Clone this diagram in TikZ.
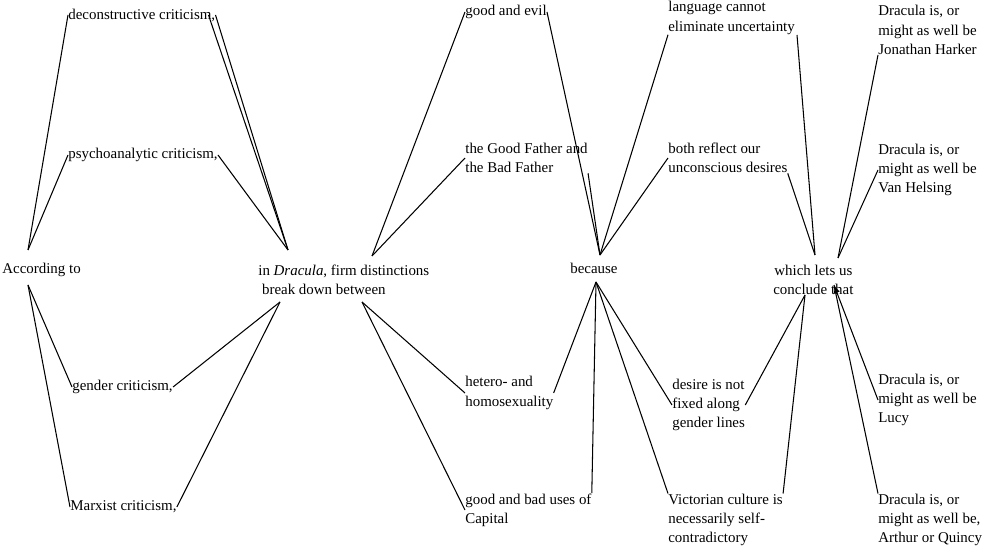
\documentclass[tikz,border=0pt]{standalone}
\usepackage{fontspec}
\setmainfont{Liberation Serif}
\begin{document}
\begin{tikzpicture}[x=0.02cm,y=-0.02cm]
% Styles
\tikzset{
    txt/.style={anchor=west, inner sep=0pt, align=left, font=\fontsize{8.5}{11}\selectfont},
    wire/.style={line width=0.6pt}
}
\useasboundingbox (0,0) rectangle (997,550);

% Nodes
\node[txt] (ACC) at (2,270) {According to};
\node[txt] (DEC) at (68,15) {deconstructive criticism,};
\node[txt] (PSY) at (68,155) {psychoanalytic criticism,};
\node[txt] (GEN) at (72,387) {gender criticism,};
\node[txt] (MAR) at (70,507) {Marxist criticism,};
\node[txt] (DRA) at (258,280) {in \textit{Dracula}, firm distinctions\\\ break down between};
\node[txt] (GE) at (465,12) {good and evil};
\node[txt] (GF) at (465,158) {the Good Father and\\the Bad Father};
\node[txt] (BEC) at (570,268) {because};
\node[txt] (HET) at (465,393) {hetero- and\\homosexuality};
\node[txt] (CAP) at (465,510) {good and bad uses of\\Capital};
\node[txt] (LAN) at (668,18) {language cannot\\eliminate uncertainty};
\node[txt] (BOT) at (668,158) {both reflect our\\unconscious desires};
\node[txt, align=center] (WHI) at (773,280) {which lets us\\conclude that};
\node[txt] (DES) at (672,405) {desire is not\\fixed along\\gender lines};
\node[txt] (VIC) at (668,520) {Victorian culture is\\necessarily self-\\contradictory};
\node[txt] (JH) at (878,30) {Dracula is, or\\might as well be\\Jonathan Harker};
\node[txt] (VH) at (878,170) {Dracula is, or\\might as well be\\Van Helsing};
\node[txt] (LU) at (878,400) {Dracula is, or\\might as well be\\Lucy};
\node[txt] (AQ) at (878,520) {Dracula is, or\\might as well be,\\Arthur or Quincy};

% Connection points
\coordinate (accT) at (28,250);
\coordinate (accB) at (28,285);
\coordinate (draT) at (288,250);
\coordinate (draB) at (280,302);
\coordinate (draR) at (372,256);
\coordinate (draD) at (362,302);
\coordinate (becT) at (600,255);
\coordinate (becB) at (596,282);
\coordinate (whiT) at (815,255);
\coordinate (whiB) at (805,295);
\coordinate (whiR) at (838,258);
\coordinate (whiD) at (834,285);
\coordinate (lanE) at (797,35);

% Connections
\draw[wire] (accT) -- (DEC.west);
\draw[wire] (accT) -- (PSY.west);
\draw[wire] (accB) -- (GEN.west);
\draw[wire] (accB) -- (MAR.west);
\draw[wire] (DEC.east) -- (draT);
\draw[wire] ([xshift=-4pt]DEC.east) -- (draT);
\draw[wire] (PSY.east) -- (draT);
\draw[wire] (GEN.east) -- (draB);
\draw[wire] (MAR.east) -- (draB);
\draw[wire] (draR) -- (GE.west);
\draw[wire] (draR) -- (GF.west);
\draw[wire] (draD) -- (HET.west);
\draw[wire] (draD) -- (CAP.west);
\draw[wire] (GE.east) -- (becT);
\draw[wire] (GF.south east) -- (becT);
\draw[wire] (HET.east) -- (becB);
\draw[wire] (CAP.north east) -- (becB);
\draw[wire] (becT) -- (LAN.south west);
\draw[wire] (becT) -- (BOT.west);
\draw[wire] (becB) -- (DES.west);
\draw[wire] (becB) -- (VIC.north west);
\draw[wire] (lanE) -- (whiT);
\draw[wire] (BOT.south east) -- (whiT);
\draw[wire] (DES.east) -- (whiB);
\draw[wire] (VIC.north east) -- (whiB);
\draw[wire] (JH.south west) -- (whiR);
\draw[wire] (VH.west) -- (whiR);
\draw[wire, -latex] (LU.west) -- (whiD);
\draw[wire] (AQ.north west) -- (whiD);
\end{tikzpicture}
\end{document}
